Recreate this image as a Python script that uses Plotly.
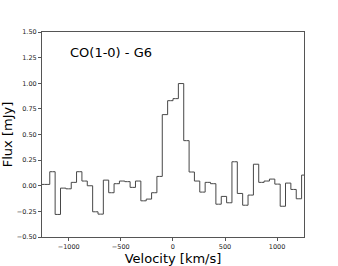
import plotly.graph_objects as go

# Channel centre velocities [km/s]
velocity = [-1258, -1207, -1156, -1104, -1053, -1001, -950, -899, -847, -796, -744,
            -693, -642, -590, -539, -487, -436, -385, -333, -282, -230,
            -179, -128, -76, -25, 27, 78, 130, 181, 232, 284,
            335, 387, 438, 490, 541, 592, 644, 695, 747, 798,
            849, 901, 952, 1004, 1055, 1106, 1158, 1209, 1261]

# Flux density [mJy]
flux = [0.013, 0.013, 0.137, -0.28, -0.023, -0.03, 0.033, 0.137, 0.046, 0.0, -0.254,
        -0.277, 0.055, -0.068, 0.02, 0.046, 0.04, -0.016, 0.046, -0.147, -0.13,
        -0.068, 0.091, 0.694, 0.83, 0.85, 0.997, 0.44, 0.134, 0.046, -0.062,
        0.033, 0.02, -0.18, -0.104, -0.166, 0.234, -0.075, -0.19, -0.091, 0.21,
        0.033, 0.046, 0.065, 0.016, -0.2, 0.026, -0.036, -0.127, 0.104]

x_ticks = [-1000, -500, 0, 500, 1000]
y_ticks = [-0.5, -0.25, 0.0, 0.25, 0.5, 0.75, 1.0, 1.25, 1.5]

FONT = "DejaVu Sans"

fig = go.Figure()
fig.add_trace(go.Scatter(
    x=velocity, y=flux, mode="lines",
    line=dict(shape="hvh", color="#474747", width=1),
    hoverinfo="skip", showlegend=False,
))

axis_common = dict(
    showgrid=False, zeroline=False, showline=True, mirror=True,
    linecolor="#555555", linewidth=1, automargin=False,
    ticks="outside", ticklen=3, tickwidth=1, tickcolor="#555555",
    tickfont=dict(family=FONT, size=6.5, color="#222222"),
)

fig.update_xaxes(
    range=[-1256, 1258], tickvals=x_ticks,
    title=dict(text="Velocity [km/s]", font=dict(family=FONT, size=13, color="black"), standoff=0),
    **axis_common,
)
fig.update_yaxes(
    range=[-0.5, 1.5], tickvals=y_ticks, tickformat=".2f",
    title=dict(text="Flux [mJy]", font=dict(family=FONT, size=13, color="black"), standoff=4),
    **axis_common,
)

fig.add_annotation(
    text="CO(1-0) - G6", xref="paper", yref="paper", x=0.099, y=0.898,
    xanchor="left", yanchor="middle", showarrow=False,
    font=dict(family=FONT, size=13, color="black"),
)

fig.update_layout(
    width=338, height=266,
    margin=dict(l=42, r=34, t=32, b=29),
    paper_bgcolor="white", plot_bgcolor="white",
    font=dict(family=FONT),
)

fig.write_html(
    "out.html",
    config={"displayModeBar": False},
    post_script="document.body.style.margin='0';document.body.style.overflow='hidden';",
)
